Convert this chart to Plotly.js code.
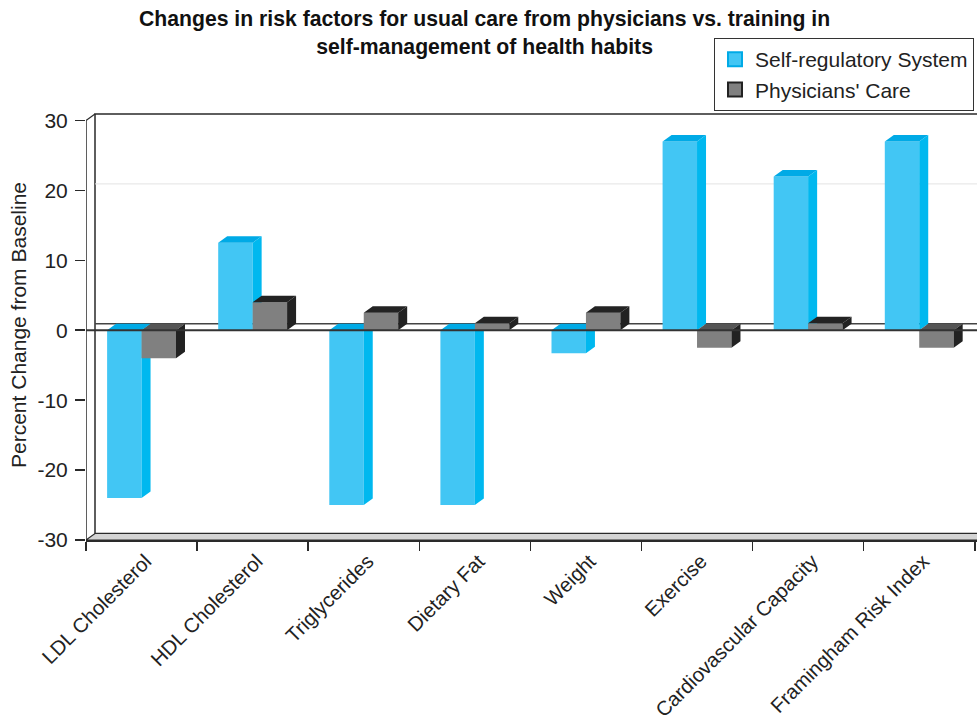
<!DOCTYPE html>
<html>
<head>
<meta charset="utf-8">
<script src="https://cdn.plot.ly/plotly-3.0.1.min.js"></script>
<style>html,body{margin:0;padding:0;background:#fff;}#chart{width:977px;height:724px;}</style>
</head>
<body>
<div id="chart"></div>
<script>
// ---- data ----
var categories = ["LDL Cholesterol","HDL Cholesterol","Triglycerides","Dietary Fat","Weight","Exercise","Cardiovascular Capacity","Framingham Risk Index"];
var selfRegulatory = [-24, 12.5, -25, -25, -3.3, 27, 22, 27];
var physiciansCare = [-4, 4, 2.5, 1, 2.5, -2.5, 1, -2.5];
var seriesNames = ["Self-regulatory System", "Physicians' Care"];
var yTicks = [-30, -20, -10, 0, 10, 20, 30];
var titleText = 'Changes in risk factors for usual care from physicians vs. training in<br>self-management of health habits';
var yTitle = 'Percent Change from Baseline';

// ---- 3D look parameters ----
var BAR_W = 0.31;   // bar width in category units
var DX = 0.081;     // depth offset (x, category units)
var DY = 0.93;      // depth offset (y, value units)
var XR = [-0.5, 7.52];
var YR = [-30, 31.5];

function faces(values, offset) {
  var front = {x: [], y: []}, topPos = {x: [], y: []}, topNeg = {x: [], y: []}, side = {x: [], y: []};
  function push(o, xs, ys) { o.x = o.x.concat(xs, [null]); o.y = o.y.concat(ys, [null]); }
  values.forEach(function (v, i) {
    var x0 = i + offset, x1 = x0 + BAR_W;
    var lo = Math.min(0, v), hi = Math.max(0, v);
    push(front, [x0, x1, x1, x0], [lo, lo, hi, hi]);
    push(v >= 0 ? topPos : topNeg, [x0, x1, x1 + DX, x0 + DX], [hi, hi, hi + DY, hi + DY]);
    push(side, [x1, x1, x1 + DX, x1 + DX], [lo, hi, hi + DY, lo + DY]);
  });
  return {front: front, topPos: topPos, topNeg: topNeg, side: side};
}

function poly(o, color, name) {
  return {
    type: 'scatter', mode: 'lines', x: o.x, y: o.y, fill: 'toself',
    fillcolor: color, line: {width: 0, color: color},
    name: name, showlegend: false, hoverinfo: 'skip', connectgaps: false
  };
}
function legendEntry(name, color, edge) {
  return {
    type: 'scatter', mode: 'markers', x: [null], y: [null], name: name, showlegend: true,
    marker: {symbol: 'square', size: 14, color: color, line: {color: edge, width: 2}}, hoverinfo: 'skip'
  };
}

var fs = faces(selfRegulatory, -BAR_W);
var fp = faces(physiciansCare, 0);

var traces = [
  poly(fs.front, '#42C6F4', seriesNames[0]),
  poly(fs.topPos, '#00AAE6', seriesNames[0]),
  poly(fs.topNeg, '#00AAE6', seriesNames[0]),
  poly(fs.side, '#00B8EF', seriesNames[0]),
  poly(fp.front, '#808080', seriesNames[1]),
  poly(fp.topPos, '#232323', seriesNames[1]),
  poly(fp.topNeg, '#555555', seriesNames[1]),
  poly(fp.side, '#222222', seriesNames[1]),
  legendEntry(seriesNames[0], '#42C6F4', '#00AAE6'),
  legendEntry(seriesNames[1], '#808080', '#222222')
];

var boundaries = [];
for (var b = 0; b <= categories.length; b++) boundaries.push(b - 0.5);

var lineCol = '#2a2a2a';
var shapes = [
  {type: 'rect', xref: 'x', yref: 'y', layer: 'below', x0: XR[0] + DX, x1: XR[1] + 1, y0: YR[0] + DY, y1: yTicks[yTicks.length - 1] + DY,
   line: {color: lineCol, width: 1.5}, fillcolor: '#ffffff'},
  {type: 'line', xref: 'x', yref: 'y', layer: 'below', x0: XR[0] + DX, x1: XR[1] + 1, y0: 20 + DY, y1: 20 + DY,
   line: {color: '#e4e4e4', width: 1}},
  {type: 'path', xref: 'x', yref: 'y', layer: 'below',
   path: 'M' + XR[0] + ',' + YR[0] + ' L' + (XR[0] + DX) + ',' + (YR[0] + DY) + ' L' + (XR[1] + 1) + ',' + (YR[0] + DY) + ' L' + (XR[1] + 1) + ',' + YR[0] + ' Z',
   fillcolor: '#d4d4d4', line: {color: lineCol, width: 1.2}},
  {type: 'line', xref: 'x', yref: 'y', layer: 'below', x0: XR[0], y0: 30, x1: XR[0] + DX, y1: 30 + DY, line: {color: lineCol, width: 1.2}},
  {type: 'line', xref: 'x', yref: 'y', layer: 'below', x0: XR[0] + DX, x1: XR[1] + 1, y0: DY, y1: DY, line: {color: '#444444', width: 1.5}},
  {type: 'line', xref: 'x', yref: 'y', layer: 'above', x0: XR[0], x1: XR[0], y0: -30, y1: 30, line: {color: lineCol, width: 1.5}},
  {type: 'line', xref: 'x', yref: 'y', layer: 'above', x0: XR[0], x1: XR[1] + 1, y0: 0, y1: 0, line: {color: '#333333', width: 2}}
];

var font = 'Liberation Sans, Arial, Helvetica, sans-serif';
var layout = {
  width: 977, height: 724,
  margin: {l: 86, r: 0, t: 110, b: 184, pad: 0},
  paper_bgcolor: '#ffffff', plot_bgcolor: 'rgba(0,0,0,0)',
  font: {family: font, size: 21, color: '#222222'},
  annotations: [{
    text: '<b>' + titleText + '</b>', showarrow: false,
    xref: 'paper', yref: 'paper', x: (484 - 86) / 891, y: 1 + (110 - 5) / 430,
    xanchor: 'center', yanchor: 'top', align: 'center',
    font: {family: font, size: 21.2, color: '#111111'}
  }],
  xaxis: {
    range: XR, showgrid: false, zeroline: false,
    showline: true, linecolor: lineCol, linewidth: 1.5,
    tickmode: 'array', tickvals: categories.map(function (c, i) { return i; }), ticktext: categories,
    ticks: '', tickangle: -45, tickfont: {size: 20.3, color: '#222222'}, ticklabelshift: 4,
    minor: {tickmode: 'array', tickvals: boundaries, ticks: 'outside', ticklen: 9, tickcolor: lineCol, tickwidth: 1.5, showgrid: false},
    fixedrange: true
  },
  yaxis: {
    range: YR, showgrid: false, zeroline: false, showline: false,
    tickmode: 'array', tickvals: yTicks, ticktext: yTicks.map(String), ticks: 'outside', ticklen: 10, tickcolor: lineCol, tickwidth: 1.5,
    tickfont: {size: 21, color: '#222222'}, ticklabelstandoff: 3,
    title: {text: yTitle, font: {size: 21, color: '#222222'}, standoff: 5},
    fixedrange: true
  },
  showlegend: true,
  legend: {
    x: (714 - 86) / 891, xanchor: 'left', y: 1 + (110 - 38) / 430, yanchor: 'top',
    bgcolor: '#ffffff', bordercolor: '#333333', borderwidth: 1,
    font: {size: 21, color: '#222222'}, tracegroupgap: 0, itemwidth: 30
  },
  shapes: shapes
};

Plotly.newPlot('chart', traces, layout, {displayModeBar: false, staticPlot: true});
</script>
</body>
</html>
